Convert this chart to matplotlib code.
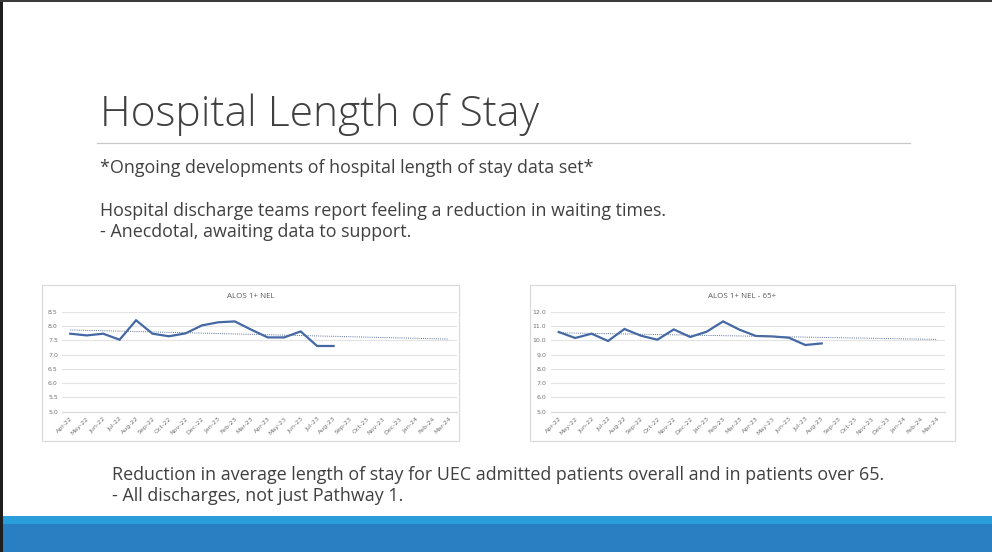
import matplotlib.pyplot as plt
import numpy as np
from matplotlib.patches import Rectangle

W, H = 992, 552

months = ["Apr-22", "May-22", "Jun-22", "Jul-22", "Aug-22", "Sep-22", "Oct-22",
          "Nov-22", "Dec-22", "Jan-23", "Feb-23", "Mar-23", "Apr-23", "May-23",
          "Jun-23", "Jul-23", "Aug-23", "Sep-23", "Oct-23", "Nov-23", "Dec-23",
          "Jan-24", "Feb-24", "Mar-24"]

alos_all = [7.73, 7.67, 7.73, 7.52, 8.20, 7.73, 7.64, 7.74, 8.02, 8.13, 8.16,
            7.87, 7.60, 7.60, 7.81, 7.30, 7.30]
alos_65 = [10.58, 10.16, 10.46, 9.95, 10.79, 10.32, 10.04, 10.76, 10.23, 10.60,
           11.32, 10.74, 10.30, 10.27, 10.18, 9.67, 9.78]

LINE_BLUE = "#4468a4"
TEXT_DARK = "#404040"
FONT = ["Open Sans", "DejaVu Sans"]
BODY_SIZE = 12.9


def px_box(x0, y0, x1, y1):
    # pixel box (top-left origin) -> figure fraction [left, bottom, w, h]
    return [x0 / W, 1 - y1 / H, (x1 - x0) / W, (y1 - y0) / H]


def draw_chart(fig, frame, plot_box, title, values, ymin, ymax, ystep):
    fx0, fy0, fx1, fy1 = frame
    fig.patches.append(Rectangle((fx0 / W, 1 - fy1 / H), (fx1 - fx0) / W,
                                 (fy1 - fy0) / H, transform=fig.transFigure,
                                 facecolor="white", edgecolor="#d9d9d9", lw=0.8,
                                 zorder=0.5))
    ax = fig.add_axes(px_box(*plot_box))
    ax.set_zorder(2)
    ax.set_facecolor("none")
    x = np.arange(len(values))
    ax.plot(x, values, color=LINE_BLUE, lw=1.6, solid_joinstyle="miter")
    # linear trend across the full year axis
    coef = np.polyfit(x, values, 1)
    xt = np.arange(len(months))
    ax.plot(xt, np.polyval(coef, xt), color="#5a6f96", lw=0.7, ls=(0, (1, 1.2)))

    ticks = np.arange(ymin, ymax + ystep / 2, ystep)
    ax.set_xlim(-0.5, len(months) - 0.5)
    ax.set_ylim(ymin, ymax)
    ax.set_yticks(ticks)
    ax.set_yticklabels([f"{v:.1f}" for v in ticks])
    ax.set_xticks(range(len(months)))
    ax.set_xticklabels(months, rotation=45, ha="right", rotation_mode="anchor")
    ax.tick_params(axis="both", length=0, labelsize=4.5, labelcolor="#737373",
                   pad=3)
    ax.tick_params(axis="x", pad=3)
    ax.grid(axis="y", color="#e3e3e3", lw=0.8)
    ax.set_axisbelow(True)
    for s in ax.spines.values():
        s.set_visible(False)
    ax.spines["bottom"].set_visible(True)
    ax.spines["bottom"].set_color("#d9d9d9")
    ax.spines["bottom"].set_linewidth(0.8)
    cx = (fx0 + fx1) / 2 / W
    fig.text(cx, 1 - 297 / H, title, ha="center", va="center", fontsize=5.8,
             color="#595959", family=FONT, zorder=3)
    return ax


fig = plt.figure(figsize=(W / 100, H / 100), dpi=100)
fig.patch.set_facecolor("white")

# screen borders and footer band
fig.patches.append(Rectangle((0, 0), 3 / W, 1, transform=fig.transFigure,
                             facecolor="#1e1e1e", edgecolor="none"))
fig.patches.append(Rectangle((0, 1 - 2 / H), 1, 2 / H, transform=fig.transFigure,
                             facecolor="#3a3a3a", edgecolor="none"))
fig.patches.append(Rectangle((3 / W, 0), 1, 1 - 516 / H, transform=fig.transFigure,
                             facecolor="#2a7fc3", edgecolor="none"))
fig.patches.append(Rectangle((3 / W, 1 - 524 / H), 1, 8 / H,
                             transform=fig.transFigure,
                             facecolor="#2a9edb", edgecolor="none"))

fig.text(100 / W, 1 - 115 / H, "Hospital Length of Stay", ha="left",
         va="center", fontsize=30.7, color=TEXT_DARK, family=FONT,
         fontweight="light")
fig.add_artist(plt.Line2D([97 / W, 910 / W], [1 - 143 / H, 1 - 143 / H],
                          transform=fig.transFigure, color="#c8c8c8", lw=0.9))

fig.text(100 / W, 1 - 168 / H, "*Ongoing developments of hospital length of stay data set*",
         ha="left", va="center", fontsize=BODY_SIZE, color=TEXT_DARK, family=FONT)
fig.text(100 / W, 1 - 211 / H,
         "Hospital discharge teams report feeling a reduction in waiting times.",
         ha="left", va="center", fontsize=BODY_SIZE, color=TEXT_DARK, family=FONT)
fig.text(100 / W, 1 - 232 / H, "- Anecdotal, awaiting data to support.",
         ha="left", va="center", fontsize=BODY_SIZE, color=TEXT_DARK, family=FONT)

draw_chart(fig, (42, 285, 459, 441), (62, 311.7, 457, 411.7), "ALOS 1+ NEL",
           alos_all, 5.0, 8.5, 0.5)
draw_chart(fig, (530, 285, 955, 441), (550.5, 311.7, 945, 411.7),
           "ALOS 1+ NEL - 65+", alos_65, 5.0, 12.0, 1.0)

fig.text(112 / W, 1 - 475 / H,
         "Reduction in average length of stay for UEC admitted patients overall and in patients over 65.",
         ha="left", va="center", fontsize=BODY_SIZE, color=TEXT_DARK, family=FONT)
fig.text(112 / W, 1 - 496 / H, "- All discharges, not just Pathway 1.",
         ha="left", va="center", fontsize=BODY_SIZE, color=TEXT_DARK, family=FONT)

fig.savefig("out.png", dpi=100)
